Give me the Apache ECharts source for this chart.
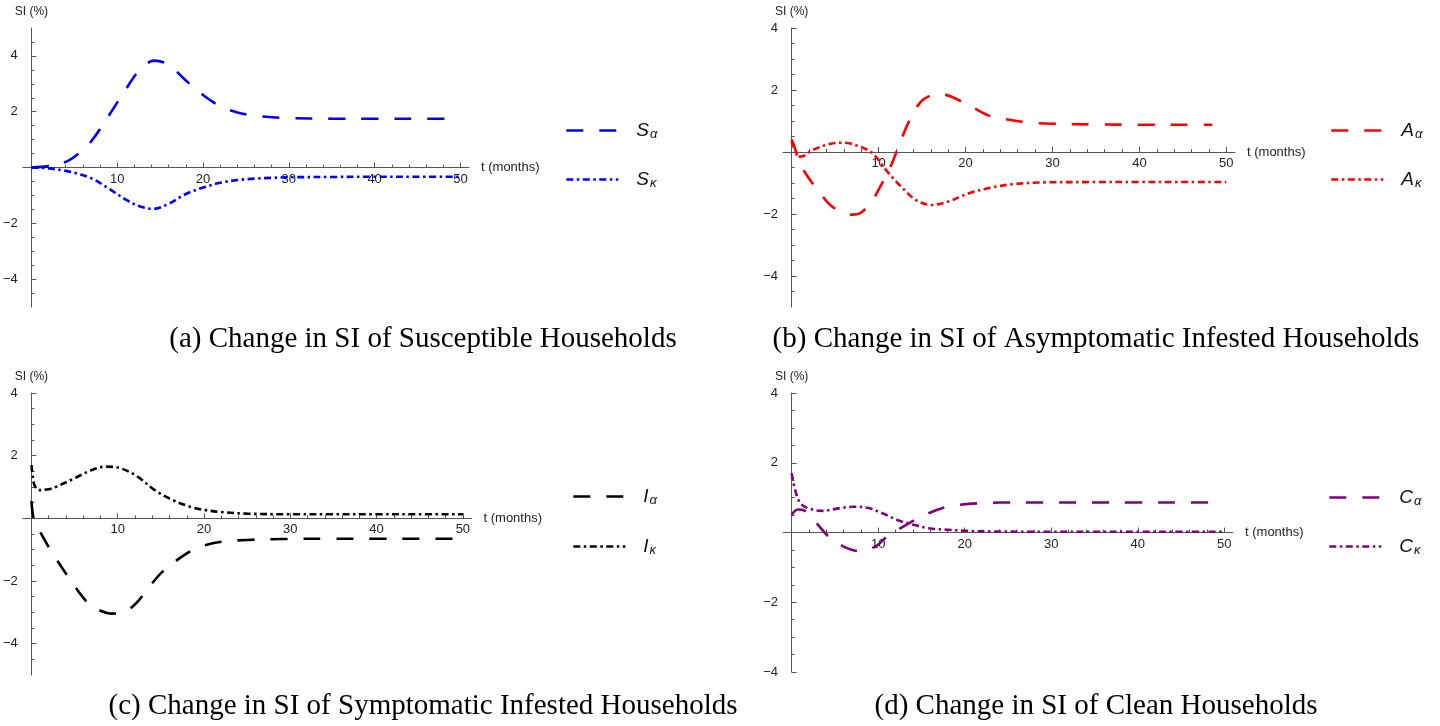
<!DOCTYPE html>
<html><head><meta charset="utf-8">
<script src="https://cdn.jsdelivr.net/npm/echarts@6/dist/echarts.min.js"></script>
<style>html,body{margin:0;padding:0;background:#fff}#c{width:1440px;height:726px}</style>
</head><body><div id="c"></div>
<script>
// ---------- DATA ----------
// (a) Susceptible
const t_Sa = [0, 2, 4, 5.5, 7, 9, 11, 12.5, 14.3, 16, 18, 20, 22, 24, 26, 28, 30, 35, 40, 45, 49.5];
const v_Sa = [0, 0.05, 0.2, 0.5, 0.95, 1.85, 2.8, 3.45, 3.83, 3.68, 3.12, 2.6, 2.2, 1.97, 1.86, 1.8, 1.77, 1.75, 1.75, 1.75, 1.75];
const t_Sk = [0, 2, 4, 5, 7, 9, 11, 12.5, 14.2, 16, 18, 20, 22, 24, 26, 28, 30, 35, 40, 45, 50];
const v_Sk = [0, -0.03, -0.12, -0.19, -0.39, -0.75, -1.15, -1.38, -1.48, -1.3, -0.95, -0.72, -0.55, -0.45, -0.4, -0.37, -0.35, -0.34, -0.33, -0.33, -0.33];
// (b) Asymptomatic infested
const t_Aa = [0, 0.3, 0.9, 1.95, 3.1, 4.4, 6, 7, 8, 9.3, 10.3, 11.2, 12, 13.4, 14.7, 15.8, 16.9, 18.4, 21, 23, 25, 27, 30, 35, 40, 45, 48.4];
const v_Aa = [0.4, 0.18, -0.34, -0.84, -1.26, -1.7, -1.98, -2.02, -1.95, -1.55, -1.06, -0.58, -0.04, 0.93, 1.57, 1.8, 1.88, 1.78, 1.41, 1.14, 1.04, 0.96, 0.91, 0.89, 0.88, 0.88, 0.88];
const t_Ak = [0, 0.5, 1, 1.6, 2.3, 4.4, 6, 7.6, 9.3, 10.9, 12.6, 14.3, 16.1, 18, 20.4, 22.9, 25.4, 29, 35, 40, 45, 50];
const v_Ak = [0.35, 0.0, -0.15, -0.1, 0.05, 0.26, 0.3, 0.2, -0.04, -0.6, -1.12, -1.55, -1.71, -1.6, -1.33, -1.15, -1.04, -0.98, -0.97, -0.97, -0.97, -0.97];
// (c) Symptomatic infested
const t_Ia = [0, 0.1, 0.25, 0.6, 1.1, 2.1, 4.4, 6.6, 8, 9.3, 10.5, 12.1, 13.5, 15.2, 18, 19.6, 22, 25, 29, 35, 40, 45, 50];
const v_Ia = [0.55, 0.25, 0.0, -0.25, -0.48, -0.96, -1.92, -2.72, -2.95, -3.04, -3.02, -2.72, -2.24, -1.7, -1.12, -0.9, -0.75, -0.69, -0.66, -0.65, -0.65, -0.65, -0.65];
const t_Ik = [0, 0.15, 0.35, 0.9, 2, 2.9, 5, 7, 8.6, 10.3, 12.3, 14.3, 16.4, 18.4, 20, 22, 25, 30, 35, 40, 45, 50];
const v_Ik = [1.7, 1.35, 1.06, 0.9, 0.93, 1.01, 1.28, 1.54, 1.65, 1.6, 1.33, 0.9, 0.58, 0.37, 0.27, 0.2, 0.15, 0.13, 0.13, 0.13, 0.13, 0.13];
// (d) Clean
const t_Ca = [0, 0.7, 1.4, 2.0, 2.85, 4.2, 5.9, 7.7, 9.7, 11.1, 12.9, 14.5, 16.3, 18, 20.4, 22.1, 24.1, 28, 35, 40, 45, 49.8];
const v_Ca = [0.5, 0.66, 0.64, 0.5, 0.28, -0.1, -0.39, -0.53, -0.4, -0.1, 0.17, 0.4, 0.6, 0.74, 0.82, 0.84, 0.86, 0.86, 0.86, 0.86, 0.86, 0.86];
const t_Ck = [0, 0.4, 1.0, 1.85, 3.5, 5.6, 7.2, 8.9, 10.5, 12.2, 13.8, 15.9, 18, 20, 23, 30, 35, 40, 45, 50];
const v_Ck = [1.7, 1.22, 0.84, 0.7, 0.62, 0.7, 0.74, 0.7, 0.55, 0.36, 0.24, 0.12, 0.08, 0.05, 0.03, 0.02, 0.02, 0.02, 0.02, 0.02];

// tick / label values
const xMajorTicks = [10, 20, 30, 40, 50];
const xMinorTicks = [2, 4, 6, 8, 12, 14, 16, 18, 22, 24, 26, 28, 32, 34, 36, 38, 42, 44, 46, 48];
const yMajorTicks = [-4, -2, 2, 4];
const yMinorTicks = [-4.5, -3.5, -3, -2.5, -1.5, -1, -0.5, 0.5, 1, 1.5, 2.5, 3, 3.5, 4.5];
const captions = [
  '(a) Change in SI of Susceptible Households',
  '(b) Change in SI of Asymptomatic Infested Households',
  '(c) Change in SI of Symptomatic Infested Households',
  '(d) Change in SI of Clean Households'
];
const legendLetters = ['S', 'A', 'I', 'C'];

// ---------- STYLE / LAYOUT ----------
const FONT = 'Liberation Sans';
const AXIS = '#555';
const DASH = [17, 16];
const DASHDOT = [7, 3.5, 2.5, 3.5];
const panels = [
  { box: { l: 18, t: 28, w: 451, h: 279 }, yMin: -5, yMax: 5, color: '#0000ff',
    a: [t_Sa, v_Sa], k: [t_Sk, v_Sk], leg: { x: 565, y1: 133, y2: 182 }, cap: { x: 423, y: 325 } },
  { box: { l: 783, t: 28, w: 452, h: 279 }, yMin: -5, yMax: 4, color: '#ff0000',
    a: [t_Aa, v_Aa], k: [t_Ak, v_Ak], leg: { x: 1330, y1: 133, y2: 182 }, cap: { x: 1096, y: 325 } },
  { box: { l: 18.5, t: 393, w: 453, h: 282 }, yMin: -5, yMax: 4, color: '#000000',
    a: [t_Ia, v_Ia], k: [t_Ik, v_Ik], leg: { x: 572, y1: 499, y2: 549 }, cap: { x: 423, y: 692 } },
  { box: { l: 783, t: 393, w: 450, h: 279 }, yMin: -4, yMax: 4, color: '#800080',
    a: [t_Ca, v_Ca], k: [t_Ck, v_Ck], leg: { x: 1328, y1: 500, y2: 549 }, cap: { x: 1096, y: 692 } }
];

function fmt(v) { return v < 0 ? '\u2212' + (-v) : String(v); }
function zip(t, v) { return t.map((x, i) => [x, v[i]]); }

const option = { backgroundColor: '#fff', animation: false,
  grid: [], xAxis: [], yAxis: [], series: [], legend: [], title: [] };

const labelStyle = { color: '#222', fontSize: 13, fontFamily: FONT };

panels.forEach((p, i) => {
  option.grid.push({ left: p.box.l, top: p.box.t, width: p.box.w, height: p.box.h });
  const inRange = v => v > p.yMin && v <= p.yMax;
  // place the x axis on y = 0 (distance from grid bottom computed from the y scale)
  const zeroOffset = -p.box.h * (0 - p.yMin) / (p.yMax - p.yMin);
  option.xAxis.push({
    type: 'value', gridIndex: i, min: -1, max: 51, position: 'bottom', offset: zeroOffset,
    axisLine: { show: true, onZero: false, lineStyle: { color: AXIS, width: 1 } },
    axisTick: { show: true, inside: true, length: 5, customValues: xMajorTicks, lineStyle: { color: AXIS } },
    axisLabel: Object.assign({ customValues: xMajorTicks, margin: 5 }, labelStyle),
    splitLine: { show: false },
    name: 't (months)', nameLocation: 'end', nameGap: 12, nameTextStyle: labelStyle
  });
  option.xAxis.push({
    type: 'value', gridIndex: i, min: -1, max: 51, position: 'bottom', offset: zeroOffset,
    axisLine: { show: false, onZero: false },
    axisTick: { show: true, inside: true, length: 3, customValues: xMinorTicks, lineStyle: { color: AXIS } },
    axisLabel: { show: false }, splitLine: { show: false }
  });
  const yLab = yMajorTicks.filter(v => v >= p.yMin && v <= p.yMax);
  option.yAxis.push({
    type: 'value', gridIndex: i, min: p.yMin, max: p.yMax, position: 'left',
    axisLine: { show: true, onZero: true, lineStyle: { color: AXIS, width: 1 } },
    axisTick: { show: true, inside: true, length: 5, customValues: yLab, lineStyle: { color: AXIS } },
    axisLabel: Object.assign({ customValues: yLab, margin: 5, formatter: fmt }, labelStyle),
    splitLine: { show: false },
    name: 'SI (%)', nameLocation: 'end', nameGap: 10,
    nameTextStyle: { color: '#222', fontSize: 12, fontFamily: FONT }
  });
  option.yAxis.push({
    type: 'value', gridIndex: i, min: p.yMin, max: p.yMax, position: 'left',
    axisLine: { show: false, onZero: true },
    axisTick: { show: true, inside: true, length: 3, customValues: yMinorTicks.filter(inRange), lineStyle: { color: AXIS } },
    axisLabel: { show: false }, splitLine: { show: false }
  });
  const L = legendLetters[i];
  [['a', '\u03b1', DASH, p.leg.y1], ['k', '\u03ba', DASHDOT, p.leg.y2]].forEach(([key, greek, dash, ly]) => {
    const name = L + greek;
    option.series.push({
      type: 'line', name: name, xAxisIndex: 2 * i, yAxisIndex: 2 * i,
      data: zip(p[key][0], p[key][1]), symbol: 'none', showSymbol: false,
      smooth: 0.35, silent: true,
      lineStyle: { color: p.color, width: 2.6, type: dash, cap: 'butt' },
      itemStyle: { color: p.color }
    });
    option.legend.push({
      data: [name], left: p.leg.x, top: ly - 12, padding: 0, selectedMode: false,
      itemWidth: 52, itemHeight: 14,
      itemStyle: { color: 'rgba(0,0,0,0)', borderWidth: 0, opacity: 0 },
      lineStyle: { width: 2.6, type: dash, color: p.color, cap: 'butt' },
      formatter: () => '{m|' + L + '}{s|' + greek + '}',
      textStyle: { rich: {
        m: { fontFamily: FONT, fontStyle: 'italic', fontSize: 19, color: '#111', padding: [0, 0, 0, 13] },
        s: { fontFamily: FONT, fontStyle: 'italic', fontSize: 13, color: '#111', padding: [8, 0, 0, 1] }
      } }
    });
  });
  option.title.push({
    text: captions[i], left: p.cap.x, top: p.cap.y, padding: 0, textAlign: 'center',
    textStyle: { fontFamily: 'Liberation Serif', fontSize: 29, fontWeight: 'normal', color: '#000' }
  });
});

const chart = echarts.init(document.getElementById('c'), null, { renderer: 'canvas' });
chart.setOption(option);
</script>
</body></html>
